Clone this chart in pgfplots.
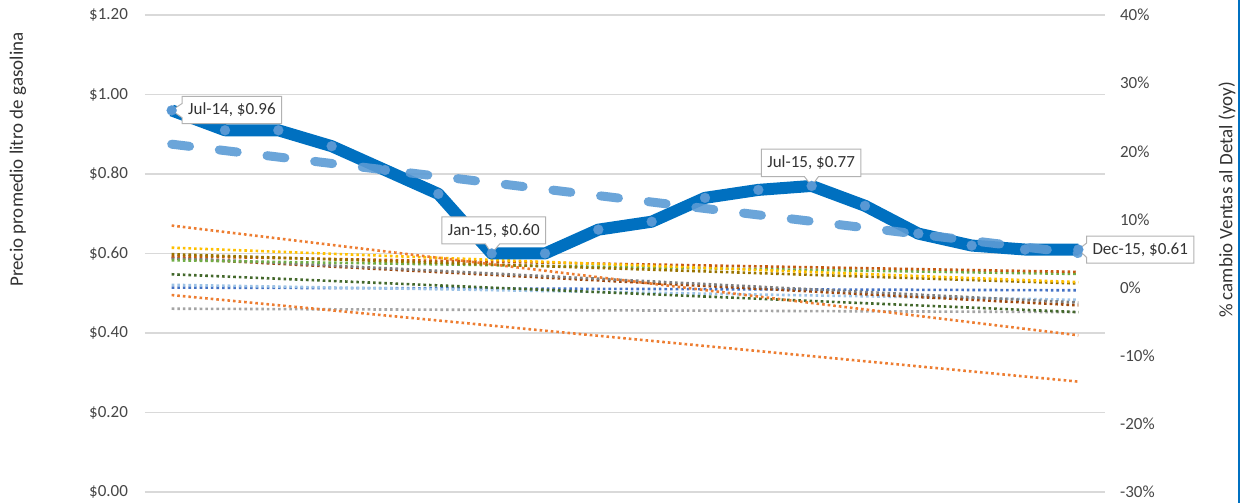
\documentclass[border=0pt]{standalone}
\usepackage{pgfplots}
\pgfplotsset{compat=1.18}
\usepackage{fontspec}
\setmainfont{Carlito}
\usetikzlibrary{shapes.callouts}
\definecolor{gridgray}{RGB}{217,217,217}
\definecolor{txt}{RGB}{70,70,70}
\definecolor{pricecol}{RGB}{0,112,192}
\definecolor{markcol}{RGB}{88,152,212}
\definecolor{trendcol}{RGB}{91,155,213}
\definecolor{cOrange}{RGB}{237,125,49}
\definecolor{cGold}{RGB}{255,192,0}
\definecolor{cDGold}{RGB}{153,115,0}
\definecolor{cGreen}{RGB}{112,173,71}
\definecolor{cRed}{RGB}{197,90,17}
\definecolor{cDGray}{RGB}{127,127,127}
\definecolor{cOlive}{RGB}{67,104,43}
\definecolor{cBlue}{RGB}{68,114,196}
\definecolor{cLBlue}{RGB}{157,195,230}
\definecolor{cGray}{RGB}{165,165,165}
\definecolor{cBrown}{RGB}{158,72,14}
\tikzset{
  dotline/.style={line width=1.3pt, dash pattern=on 1.3pt off 1.5pt},
  lbl/.style={rectangle callout, fill=white, draw=gray!60, line width=0.5pt,
    text=black!80, inner xsep=3pt, minimum height=13pt}
}
\begin{document}
\begin{tikzpicture}[font=\fontsize{8.5}{10}\selectfont]
\pgfplotsset{
  base/.style={scale only axis, width=480pt, height=238.5pt,
    at={(72.5pt,5.5pt)}, anchor=south west,
    xmin=-0.5, xmax=17.5, xtick=\empty,
    axis line style={draw=none}, major tick length=0pt,
    /pgf/number format/assume math mode=true, clip=false,
    tick label style={text=txt}}
}
% left axis with gridlines
\begin{axis}[base, ymin=0, ymax=1.2, ytick={0,0.2,0.4,0.6,0.8,1.0,1.2},
  ymajorgrids, grid style={color=gridgray, line width=0.6pt},
  yticklabel={\$\pgfmathprintnumber[fixed,fixed zerofill,precision=2]{\tick}},
  yticklabel style={xshift=-5pt}]
\end{axis}
% right axis: retail sales change trend lines
\begin{axis}[base, ymin=-30, ymax=40, axis y line*=right,
  ytick={-30,-20,-10,0,10,20,30,40},
  yticklabel={\pgfmathprintnumber{\tick}\%},
  yticklabel style={anchor=west, xshift=4pt}]
\addplot[dotline, cGray]   coordinates {(0,-3.1) (17,-3.6)};
\addplot[dotline, cBlue]   coordinates {(0,0.0) (17,-0.4)};
\addplot[dotline, cLBlue]  coordinates {(0,0.4) (17,-1.8)};
\addplot[dotline, cOlive]  coordinates {(0,1.95) (17,-3.6)};
\addplot[dotline, cBrown]  coordinates {(0,4.3) (17,-2.6)};
\addplot[dotline, cDGray]  coordinates {(0,4.4) (17,-2.2)};
\addplot[dotline, cGreen]  coordinates {(0,4.0) (17,2.0)};
\addplot[dotline, cRed]    coordinates {(0,4.6) (17,2.3)};
\addplot[dotline, cDGold]  coordinates {(0,4.9) (17,0.6)};
\addplot[dotline, cGold]   coordinates {(0,5.85) (17,0.8)};
\addplot[dotline, cOrange] coordinates {(0,-1.1) (17,-13.8)};
\addplot[dotline, cOrange] coordinates {(0,9.1) (17,-7.0)};
\end{axis}
% price line and trend
\begin{axis}[base, ymin=0, ymax=1.2, hide axis]
\addplot[pricecol, line width=6pt, line join=round, no marks]
coordinates {(0,0.96) (1,0.91) (2,0.91) (3,0.87) (4,0.81) (5,0.75)
 (6,0.60) (7,0.60) (8,0.66) (9,0.68) (10,0.74) (11,0.76) (12,0.77)
 (13,0.72) (14,0.65) (15,0.62) (16,0.61) (17,0.61)};
\addplot[only marks, mark=*, mark size=2.5pt,
  mark options={draw=markcol, fill=markcol, line width=0.1pt}]
coordinates {(0,0.96) (1,0.91) (2,0.91) (3,0.87) (4,0.81) (5,0.75)
 (6,0.60) (7,0.60) (8,0.66) (9,0.68) (10,0.74) (11,0.76) (12,0.77)
 (13,0.72) (14,0.65) (15,0.62) (16,0.61) (17,0.61)};
\addplot[trendcol, opacity=0.9, line width=4.5pt, line cap=round,
  dash pattern=on 9pt off 15pt] coordinates {(0,0.875) (17,0.600)};
\node[lbl, callout absolute pointer={(axis cs:0,0.96)}] at (axis cs:1.13,0.961) {Jul-14, \$0.96};
\node[lbl, callout absolute pointer={(axis cs:6,0.60)}] at (axis cs:6.04,0.658) {Jan-15, \$0.60};
\node[lbl, callout absolute pointer={(axis cs:12,0.77)}] at (axis cs:11.99,0.828) {Jul-15, \$0.77};
\node[lbl, callout absolute pointer={(axis cs:17,0.61)}] at (axis cs:18.16,0.610) {Dec-15, \$0.61};
\end{axis}
\node[rotate=90, text=black!80, font=\fontsize{9.5}{11}\selectfont] at (9pt,171.75pt) {Precio promedio litro de gasolina};
\node[rotate=90, text=black!80, font=\fontsize{9.5}{11}\selectfont] at (613.5pt,151.5pt) {\% cambio Ventas al Detal (yoy)};
\draw[pricecol, line width=1pt] (619.5pt,0pt) -- (619.5pt,251.5pt);
\pgfresetboundingbox
\useasboundingbox (0,0) rectangle (621pt,251.5pt);
\end{tikzpicture}
\end{document}
